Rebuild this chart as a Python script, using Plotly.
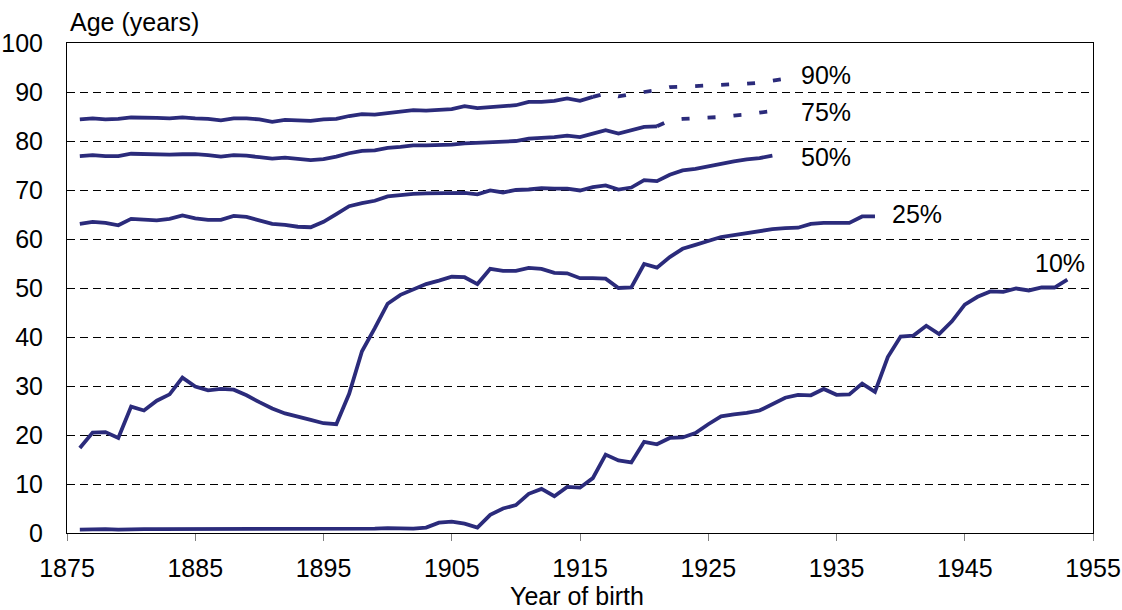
import plotly.graph_objects as go

# ---- data ----
years_all = list(range(1876, 1954))

p10 = [0.7, 0.8, 0.8, 0.7, 0.8, 0.8, 0.8, 0.8, 0.9, 0.8,
       0.8, 0.9, 0.9, 0.9, 0.9, 0.8, 0.8, 0.8, 0.9, 0.9,
       0.9, 0.9, 0.9, 0.9, 1.0, 1.0, 0.9, 1.1, 2.1, 2.3,
       1.9, 1.1, 3.7, 5.0, 5.7, 8.0, 9.0, 7.5, 9.4, 9.25,
       11.2, 16.0, 14.8, 14.4, 18.6, 18.1, 19.4, 19.5, 20.4, 22.2,
       23.8, 24.2, 24.5, 25.0, 26.2, 27.6, 28.2, 28.1, 29.4, 28.2,
       28.3, 30.5, 28.8, 35.9, 40.1, 40.3, 42.3, 40.6, 43.2, 46.6,
       48.2, 49.3, 49.2, 49.9, 49.5, 50.1, 50.1, 51.7]

p25 = [17.35, 20.5, 20.6, 19.4, 25.8, 25.0, 27.0, 28.3, 31.7, 29.9,
       29.1, 29.4, 29.25, 28.1, 26.7, 25.4, 24.4, 23.8, 23.1, 22.4,
       22.2, 28.4, 37.1, 41.8, 46.8, 48.6, 49.7, 50.8, 51.5, 52.3,
       52.2, 50.8, 53.9, 53.5, 53.5, 54.1, 53.9, 53.1, 53.0, 52.0,
       52.0, 51.9, 50.0, 50.1, 54.9, 54.15, 56.3, 58.0, 58.8, 59.7,
       60.4, 60.8, 61.2, 61.6, 62.0, 62.2, 62.3, 63.1, 63.3, 63.3,
       63.3, 64.6, 64.6]

p50 = [63.1, 63.5, 63.3, 62.8, 64.1, 63.9, 63.8, 64.1, 64.8, 64.2,
       63.9, 63.9, 64.7, 64.5, 63.7, 63.1, 62.9, 62.5, 62.4, 63.5,
       65.1, 66.7, 67.3, 67.8, 68.7, 69.0, 69.2, 69.3, 69.3, 69.3,
       69.4, 69.1, 69.9, 69.5, 70.0, 70.1, 70.4, 70.3, 70.3, 69.9,
       70.6, 70.95, 70.1, 70.5, 72.0, 71.8, 73.1, 74.0, 74.3, 74.8,
       75.4, 75.85, 76.25, 76.5, 77.0]

p75 = [76.9, 77.1, 76.9, 76.9, 77.4, 77.3, 77.3, 77.2, 77.3, 77.3,
       77.1, 76.8, 77.1, 77.0, 76.7, 76.4, 76.6, 76.4, 76.1, 76.3,
       76.8, 77.5, 78.0, 78.1, 78.6, 78.8, 79.1, 79.1, 79.1, 79.25,
       79.5, 79.6, 79.8, 79.9, 80.0, 80.5, 80.6, 80.8, 81.1, 80.8,
       81.5, 82.2, 81.5, 82.2, 82.9, 83.0]
p75_proj_years = list(range(1921, 1931))
p75_proj = [83.0, 84.2, 84.5, 84.6, 84.75, 84.9, 85.2, 85.4, 85.8, 86.1]

p90 = [84.4, 84.6, 84.4, 84.5, 84.8, 84.8, 84.7, 84.6, 84.8, 84.6,
       84.5, 84.2, 84.6, 84.6, 84.4, 83.9, 84.3, 84.2, 84.1, 84.4,
       84.5, 85.1, 85.5, 85.4, 85.7, 85.9, 86.3, 86.2, 86.4, 86.5,
       87.1, 86.7, 86.9, 87.1, 87.3, 88.0, 88.0, 88.2, 88.7, 88.2,
       89.0]
p90_proj_years = list(range(1916, 1932))
p90_proj = [89.0, 89.7, 89.1, 89.6, 90.0, 90.4, 91.0, 91.1, 91.2, 91.3,
            91.4, 91.5, 91.7, 91.9, 92.3, 92.7]

labels = ["90%", "75%", "50%", "25%", "10%"]
label_x = [1934.2, 1934.2, 1934.2, 1941.3, 1952.4]
label_y = [93.5, 86.0, 76.8, 65.2, 55.2]

x_ticks = list(range(1875, 1956, 10))
y_ticks = list(range(0, 101, 10))

# ---- style ----
LINE = "#2b2b7b"
W = 3.8
FONT = "Liberation Sans, Arial, sans-serif"
FS = 25

fig = go.Figure()

def add(xs, ys, dash="solid"):
    fig.add_trace(go.Scatter(x=xs, y=ys, mode="lines",
                             line=dict(color=LINE, width=W, dash=dash),
                             showlegend=False, hoverinfo="skip"))

add(years_all[:len(p10)], p10)
add(years_all[:len(p25)], p25)
add(years_all[:len(p50)], p50)
add(years_all[:len(p75)], p75)
add(p75_proj_years, p75_proj, "8px,18px")
add(years_all[:len(p90)], p90)
add(p90_proj_years, p90_proj, "8px,18px")

for t, lx, ly in zip(labels, label_x, label_y):
    fig.add_annotation(x=lx, y=ly, text=t, showarrow=False,
                       font=dict(size=FS, color="black", family=FONT),
                       xanchor="center", yanchor="middle")

fig.add_annotation(x=0.001, y=1.042, xref="paper", yref="paper",
                   text="Age (years)", showarrow=False,
                   xanchor="left", yanchor="middle",
                   font=dict(size=FS, color="black", family=FONT))
fig.add_annotation(x=0.497, y=-0.129, xref="paper", yref="paper",
                   text="Year of birth", showarrow=False,
                   xanchor="center", yanchor="middle",
                   font=dict(size=FS, color="black", family=FONT))

fig.update_layout(
    width=1122, height=610,
    margin=dict(l=67, r=29, t=43, b=77, autoexpand=False),
    paper_bgcolor="white", plot_bgcolor="white",
    font=dict(family=FONT, size=FS, color="black"),
    showlegend=False,
)
fig.update_xaxes(range=[1875, 1955], tickvals=x_ticks, ticktext=[str(v) for v in x_ticks],
                 showgrid=False, zeroline=False, automargin=False,
                 showline=True, linecolor="black", linewidth=1, mirror=True,
                 ticks="outside", ticklen=7, tickcolor="#808080", tickwidth=1,
                 ticklabelstandoff=6,
                 tickfont=dict(size=FS, family=FONT, color="black"))
fig.update_yaxes(range=[0, 100], tickvals=y_ticks, ticktext=[str(v) for v in y_ticks],
                 showgrid=True, gridcolor="black", gridwidth=1, griddash="8px,5px",
                 zeroline=False, automargin=False,
                 showline=True, linecolor="black", linewidth=1, mirror=True,
                 ticks="", ticklabelstandoff=18,
                 tickfont=dict(size=FS, family=FONT, color="black"))

fig.write_html("out.html",
               config={"displayModeBar": False},
               post_script="document.body.style.margin='0';document.body.style.overflow='hidden';")
